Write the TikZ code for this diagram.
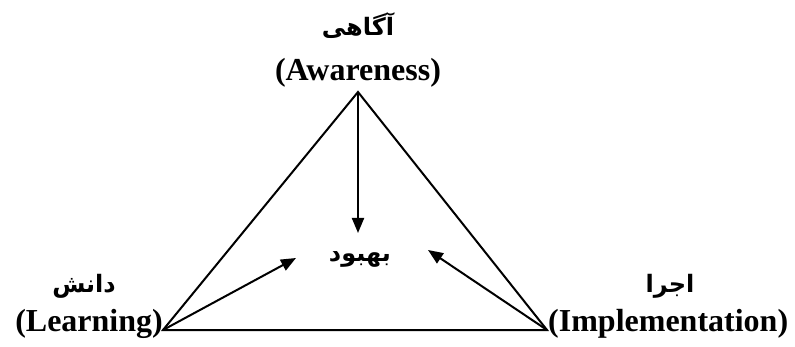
\documentclass[tikz,border=0pt]{standalone}
\usepackage{fontspec}
\setmainfont{Liberation Serif}
\newfontfamily\arabicfont[Script=Arabic]{DejaVu Sans}
\TeXXeTstate=1
\usetikzlibrary{arrows.meta}
\tikzset{
  edge/.style={line width=2pt},
  arr/.style={line width=2pt,-{Triangle[length=15pt,width=12pt]}},
  latin/.style={font=\fontsize{32}{36}\selectfont\bfseries, inner sep=0pt},
  persian/.style={font=\arabicfont\fontsize{24}{28}\selectfont\bfseries, inner sep=0pt}
}
\begin{document}
\begin{tikzpicture}[x=1pt,y=-1pt]
\useasboundingbox (0,0) rectangle (795,347);
\coordinate (A) at (358,92);
\coordinate (L) at (163,330);
\coordinate (R) at (547,330);
\coordinate (tA) at (358,233);
\coordinate (tL) at (296,258);
\coordinate (tR) at (428,250);
\draw[edge, line join=miter] (A) -- (L) -- (R) -- cycle;
\draw[arr] (A) -- (tA);
\draw[arr] (L) -- (tL);
\draw[arr] (R) -- (tR);
\node[persian] (pa) at (358,26) {\beginR آگاهی\endR};
\node[latin, anchor=base] (ea) at (358,81) {(Awareness)};
\node[persian] (pc) at (360,259) {\beginR بهبود\endR};
\node[persian] (pl) at (84,286) {\beginR دانش\endR};
\node[latin, anchor=base east] (el) at (163,331) {(Learning)};
\node[persian] (pr) at (670,286) {\beginR اجرا\endR};
\node[latin, anchor=base west] (er) at (548,331) {(Implementation)};
\end{tikzpicture}
\end{document}
